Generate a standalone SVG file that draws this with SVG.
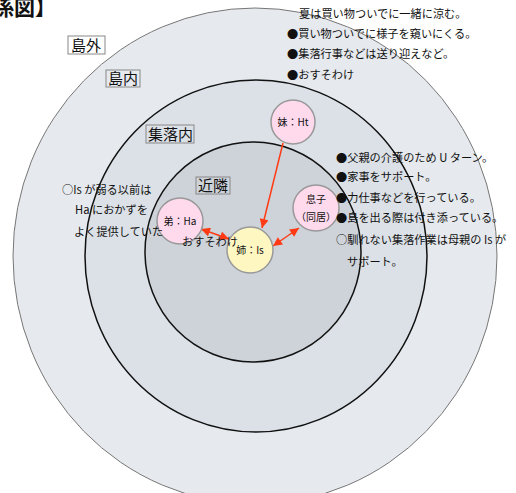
<svg xmlns="http://www.w3.org/2000/svg" width="516" height="493" viewBox="0 0 516 493">
<style>
text{font-family:"Noto Sans CJK JP","Liberation Sans",sans-serif;fill:#111}
.t{font-size:11.2px}
.lb{font-size:15px}
.box{fill:none;stroke:#888;stroke-width:1}
.nd{stroke:#999;stroke-width:1.5}
.pk{fill:#ffd9ec}
.yl{fill:#fff7c2}
.nl{font-size:10px;text-anchor:middle}
.ar{stroke:#ff3a14;stroke-width:1.5;fill:none}
</style>
<defs>
<marker id="ah" viewBox="0 0 10 10" refX="10" refY="5" markerWidth="10" markerHeight="9" markerUnits="userSpaceOnUse" orient="auto-start-reverse">
<path d="M0,0 L10,5 L0,10 Z" fill="#ff3a14"/>
</marker>
</defs>
<rect width="516" height="493" fill="#fff"/>
<g id="rings">
<ellipse cx="255" cy="256" rx="242" ry="248" fill="#e6e9ed" stroke="#777" stroke-width="1"/>
<ellipse cx="256" cy="256" rx="171" ry="176" fill="#dce1e7" stroke="#111" stroke-width="1.5"/>
<ellipse cx="253" cy="252" rx="108" ry="110" fill="#ced3d9" stroke="#111" stroke-width="1.5"/>
</g>
<text x="-49" y="15" style="font-size:21px;font-weight:bold">【関係図】</text>
<g id="labels">
<rect class="box" x="68" y="36" width="37" height="18"/><text class="lb" x="71" y="51">島外</text>
<rect class="box" x="106" y="70" width="34" height="17"/><text class="lb" x="108" y="84">島内</text>
<rect class="box" x="146" y="125" width="48" height="18"/><text class="lb" x="148" y="140">集落内</text>
<rect class="box" x="196" y="177" width="34" height="17"/><text class="lb" x="198" y="191">近隣</text>
</g>
<g id="connectors">
<line class="ar" x1="283" y1="143" x2="262" y2="228" marker-end="url(#ah)"/>
<line class="ar" x1="201" y1="229" x2="229" y2="239" marker-start="url(#ah)" marker-end="url(#ah)"/>
<line class="ar" x1="273" y1="246" x2="299" y2="228" marker-start="url(#ah)" marker-end="url(#ah)"/>
</g>
<g id="node-ht"><circle class="nd pk" cx="293" cy="122" r="22"/><text class="nl" x="293" y="126">妹：Ht</text></g>
<g id="node-son"><circle class="nd pk" cx="316" cy="208" r="23"/><text class="nl" x="316" y="203">息子</text><text class="nl" x="316" y="221">（同居）</text></g>
<g id="node-ha"><circle class="nd pk" cx="180" cy="221" r="23"/><text class="nl" x="180" y="225">弟：Ha</text></g>
<g id="node-is"><circle class="nd yl" cx="250" cy="250" r="23"/><text class="nl" x="250" y="254">姉：Is</text></g>
<g id="notes">
<text class="t" x="299" y="18">夏は買い物ついでに一緒に涼む。</text>
<text class="t" x="287" y="38">●買い物ついでに様子を窺いにくる。</text>
<text class="t" x="287" y="58">●集落行事などは送り迎えなど。</text>
<text class="t" x="287" y="79">●おすそわけ</text>
<text class="t" x="336" y="162">●父親の介護のため U ターン。</text>
<text class="t" x="336" y="181">●家事をサポート。</text>
<text class="t" x="336" y="202">●力仕事などを行っている。</text>
<text class="t" x="336" y="222">●島を出る際は付き添っている。</text>
<text class="t" x="336" y="244">○馴れない集落作業は母親の Is が</text>
<text class="t" x="347" y="266">サポート。</text>
<text class="t" x="62" y="194">○Is が弱る以前は</text>
<text class="t" x="75" y="214">Ha におかずを</text>
<text class="t" x="74" y="236">よく提供していた</text>
<text class="t" x="182" y="246">おすそわけ</text>
</g>
</svg>
